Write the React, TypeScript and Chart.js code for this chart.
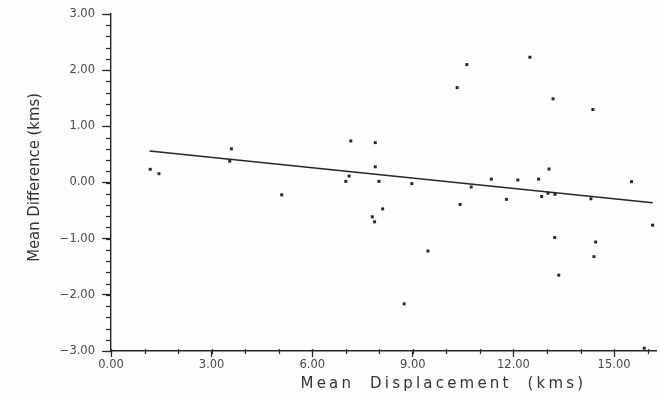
import { useEffect, useRef } from "react";
import { Chart, registerables } from "chart.js";

Chart.register(...registerables);

// Scatter data: mean displacement (x) vs mean difference (y), in kms
const X_VALUES = [
  1.17, 1.43, 3.59, 3.54, 5.09, 7.15, 7.88, 7.88, 7.1, 7.0, 7.99, 7.79, 7.86,
  8.1, 8.97, 9.45, 8.74, 10.32, 10.61, 10.41, 10.74, 11.34, 11.79, 12.13,
  12.49, 12.75, 13.06, 13.18, 12.84, 13.03, 13.24, 13.23, 13.35, 14.37, 14.31,
  14.45, 14.4, 15.52, 16.15, 15.9,
];
const Y_VALUES = [
  0.235, 0.157, 0.6, 0.38, -0.22, 0.74, 0.71, 0.28, 0.115, 0.02, 0.02, -0.61,
  -0.7, -0.47, -0.02, -1.22, -2.16, 1.69, 2.1, -0.39, -0.08, 0.06, -0.3, 0.045,
  2.23, 0.06, 0.24, 1.49, -0.25, -0.19, -0.21, -0.98, -1.65, 1.3, -0.29, -1.06,
  -1.32, 0.015, -0.76, -2.95,
];

// Fitted regression line end points
const FIT_X = [1.15, 16.15];
const FIT_Y = [0.56, -0.36];

const X_TICKS = [0, 3, 6, 9, 12, 15];
const X_MINOR = [0, 1, 2, 3, 4, 5, 6, 7, 8, 9, 10, 11, 12, 13, 14, 15, 16];
const Y_TICKS = [-3, -2, -1, 0, 1, 2, 3];
const Y_MINOR = [
  -3, -2.8, -2.6, -2.4, -2.2, -2, -1.8, -1.6, -1.4, -1.2, -1, -0.8, -0.6, -0.4,
  -0.2, 0, 0.2, 0.4, 0.6, 0.8, 1, 1.2, 1.4, 1.6, 1.8, 2, 2.2, 2.4, 2.6, 2.8, 3,
];

const X_TITLE = "Mean  Displacement  (kms)";
const Y_TITLE = "Mean Difference (kms)";

const INK = "#262626";
const LABEL = "#4a4a4a";

const fmt = (v: number) => (v < 0 ? "\u2212" + Math.abs(v).toFixed(2) : v.toFixed(2));

const decor = {
  id: "decor",
  afterDraw(chart: any) {
    const { ctx, chartArea, scales } = chart;
    ctx.save();
    ctx.strokeStyle = INK;
    ctx.lineWidth = 1.2;
    Y_MINOR.forEach((v) => {
      const y = Math.round(scales.y.getPixelForValue(v)) + 0.5;
      ctx.beginPath();
      ctx.moveTo(chartArea.left - 5, y);
      ctx.lineTo(chartArea.left, y);
      ctx.stroke();
    });
    X_MINOR.forEach((v) => {
      const x = Math.round(scales.x.getPixelForValue(v)) + 0.5;
      ctx.beginPath();
      ctx.moveTo(x, chartArea.bottom - 2);
      ctx.lineTo(x, chartArea.bottom + 3);
      ctx.stroke();
    });

    // Y title
    ctx.fillStyle = "#333";
    ctx.font = '16.5px "Liberation Sans Narrow", "DejaVu Sans Condensed", "Roboto Condensed", sans-serif';
    ctx.textAlign = "center";
    ctx.textBaseline = "middle";
    ctx.save();
    ctx.translate(35, chartArea.top + (chartArea.bottom - chartArea.top) * 0.485);
    ctx.rotate(-Math.PI / 2);
    ctx.fillText(Y_TITLE, 0, 0);
    ctx.restore();

    // X title
    ctx.font = '15px "DejaVu Sans", sans-serif';
    (ctx as any).letterSpacing = "3.2px";
    ctx.textBaseline = "alphabetic";
    ctx.fillText(X_TITLE, chartArea.left + (chartArea.right - chartArea.left) * 0.61, 388);
    ctx.restore();
  },
};

export default function App() {
  const ref = useRef<HTMLCanvasElement | null>(null);

  useEffect(() => {
    document.body.style.margin = "0";
    document.body.style.background = "#fdfdfb";
    const canvas = ref.current;
    if (!canvas) return;
    const points = X_VALUES.map((x, i) => ({ x, y: Y_VALUES[i] }));
    const fit = FIT_X.map((x, i) => ({ x, y: FIT_Y[i] }));
    const chart = new Chart(canvas, {
      type: "scatter",
      data: {
        datasets: [
          {
            data: points,
            pointStyle: "rect",
            radius: 2.1,
            backgroundColor: INK,
            borderColor: INK,
            borderWidth: 0,
            showLine: false,
          },
          {
            data: fit,
            showLine: true,
            borderColor: INK,
            borderWidth: 1.4,
            pointRadius: 0,
            fill: false,
          } as any,
        ],
      },
      options: {
        animation: false,
        responsive: false,
        devicePixelRatio: 1,
        layout: { padding: { top: 14, right: 3, left: 0, bottom: 0 } },
        plugins: { legend: { display: false }, tooltip: { enabled: false } },
        scales: {
          x: {
            type: "linear",
            min: 0,
            max: 16.25,
            afterBuildTicks: (s: any) => {
              s.ticks = X_TICKS.map((v) => ({ value: v }));
            },
            afterFit: (s: any) => {
              s.height = 44;
            },
            grid: {
              drawOnChartArea: false,
              drawTicks: true,
              tickLength: 6,
              tickColor: INK,
              tickWidth: 1.2,
            },
            border: { display: true, color: INK, width: 1.4 },
            ticks: {
              color: LABEL,
              font: { family: '"DejaVu Sans", sans-serif', size: 11.5 },
              padding: 1,
              maxRotation: 0,
              callback: (v: any) => fmt(Number(v)),
            },
          },
          y: {
            type: "linear",
            min: -3,
            max: 3,
            afterBuildTicks: (s: any) => {
              s.ticks = Y_TICKS.map((v) => ({ value: v }));
            },
            afterFit: (s: any) => {
              s.width = 111;
            },
            grid: {
              drawOnChartArea: false,
              drawTicks: true,
              tickLength: 9,
              tickColor: INK,
              tickWidth: 1.2,
            },
            border: { display: true, color: INK, width: 1.4 },
            ticks: {
              color: LABEL,
              font: { family: '"DejaVu Sans", sans-serif', size: 11.5 },
              padding: 7,
              callback: (v: any) => fmt(Number(v)),
            },
          },
        },
      },
      plugins: [decor],
    });
    return () => chart.destroy();
  }, []);

  return (
    <div style={{ width: 660, height: 395 }}>
      <canvas ref={ref} width={660} height={395} style={{ display: "block" }} />
    </div>
  );
}
